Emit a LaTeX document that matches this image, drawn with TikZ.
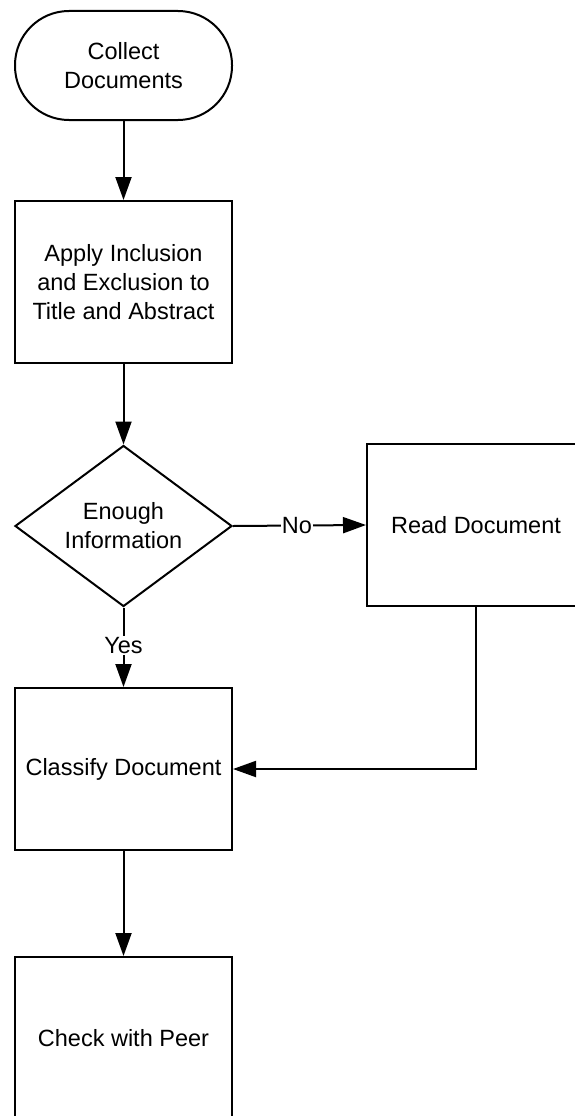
\documentclass[tikz,border=0pt]{standalone}
\usepackage{fontspec}
\setmainfont{Liberation Sans}
\usetikzlibrary{arrows.meta,shapes.geometric}
\begin{document}
\begin{tikzpicture}[x=1pt,y=-1pt,
  every node/.style={font=\fontsize{23.5}{29}\selectfont, align=center, inner sep=0pt},
  base/.style={draw=black, line width=2pt, fill=white},
  procbox/.style={base, rectangle, minimum width=217pt, minimum height=162pt},
  termbox/.style={base, rectangle, rounded corners=54pt, minimum width=217pt, minimum height=109pt},
  decision/.style={base, diamond, minimum width=217pt, minimum height=161pt, aspect=1.35},
  flow/.style={line width=2pt, -{Triangle[length=23pt,width=16pt]}},
  lbl/.style={fill=white, inner sep=1pt}
]
\useasboundingbox (0,0) rectangle (575,1116);
\begin{scope}
\clip (0,0) rectangle (575,1116);

\node[termbox]  (collect)  at (123.5,65.5)  {Collect\\Documents};
\node[procbox]  (apply)    at (123.5,282)   {Apply Inclusion\\and Exclusion to\\Title and Abstract};
\node[decision] (enough)   at (123.5,526)   {Enough\\Information};
\node[procbox, minimum width=218pt] (read) at (476,525) {Read Document};
\node[procbox]  (classify) at (123.5,769)   {Classify Document};
\node[procbox]  (check)    at (123.5,1038)  {Check with Peer};

\coordinate (bend) at (read.south |- classify.east);

\draw[flow] (collect) -- (apply);
\draw[flow] (apply) -- (enough.north);
\draw[flow] (enough.east) -- node[lbl, pos=0.48] {No} (read.west);
\draw[flow] (enough.south) -- node[lbl, pos=0.48] {Yes} (classify.north);
\draw[flow] (read.south) -- (bend) -- (classify.east);
\draw[flow] (classify) -- (check);
\end{scope}
\end{tikzpicture}
\end{document}
